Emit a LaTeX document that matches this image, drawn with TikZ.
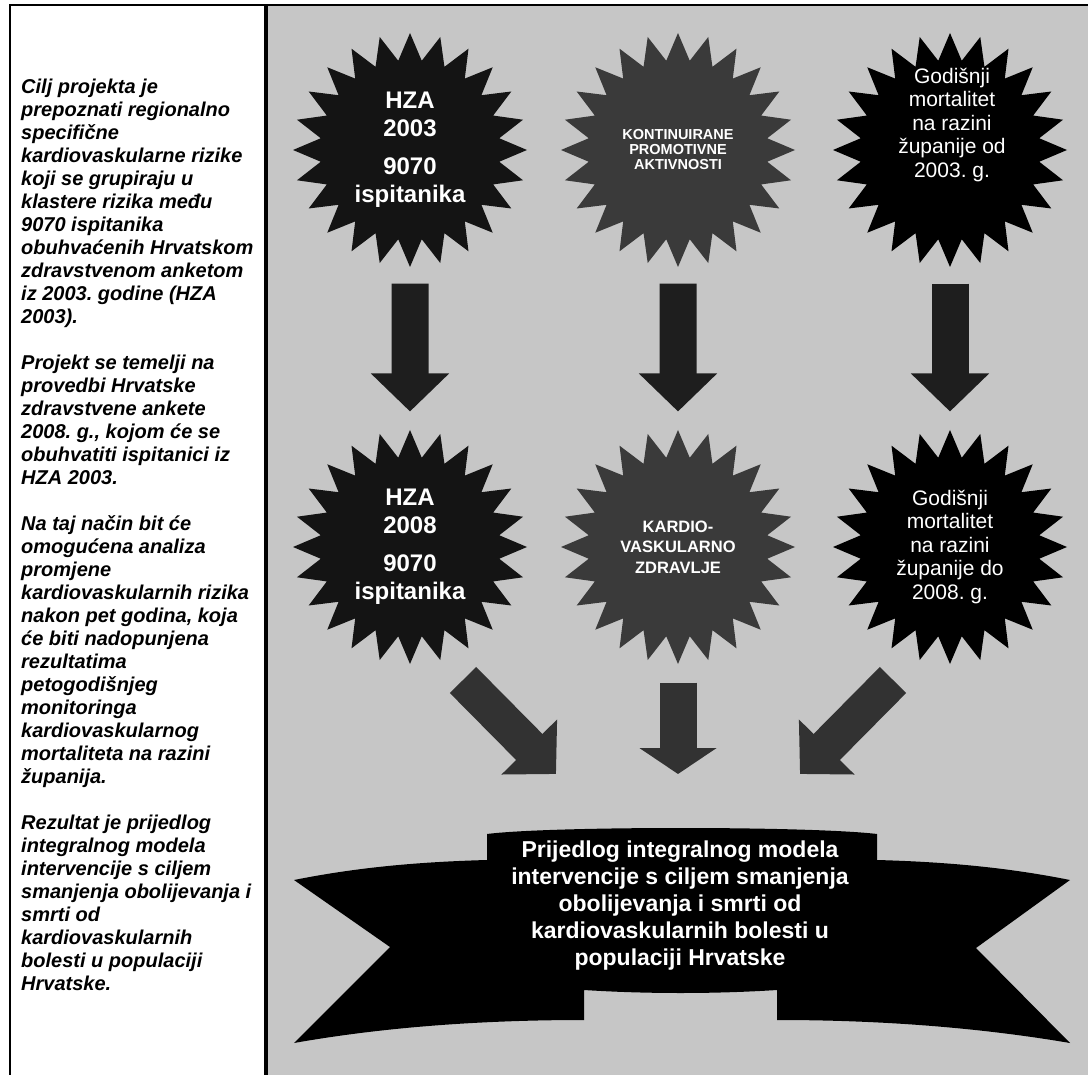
\documentclass[tikz,border=0pt]{standalone}
\usepackage{fontspec}
\setmainfont{Liberation Sans}
\usetikzlibrary{shapes.geometric,arrows.meta}
\frenchspacing
\definecolor{panelgray}{RGB}{198,198,198}
\definecolor{stardark}{RGB}{20,20,20}
\definecolor{starmid}{RGB}{58,58,58}
\definecolor{arrowdark}{RGB}{30,30,30}
\definecolor{arrowmid}{RGB}{50,50,50}
\tikzset{
	burst/.style={star, star points=24, star point ratio=1.3, minimum size=234pt, inner sep=0pt, text=white, align=center},
	bigarrow/.style={line width=37pt, -{Triangle[width=76pt,length=38pt]}},
	hzatext/.style={font=\fontsize{24}{28}\selectfont\bfseries},
	capstext/.style={font=\fontsize{14.5}{15}\selectfont\bfseries},
	mortext/.style={font=\fontsize{21}{23.5}\selectfont},
	sidetext/.style={anchor=north west, inner sep=0pt, align=left, font=\fontsize{20}{23}\selectfont\bfseries\itshape}
}
\begin{document}
\begin{tikzpicture}[x=1pt,y=-1pt]
	\useasboundingbox (0,0) rectangle (1088,1075);
	\fill[white] (0,0) rectangle (1088,1075);
	\fill[panelgray] (267,6) rectangle (1088,1075);
	\draw[line width=2pt] (10,1075) -- (10,5) -- (1088,5);
	\draw[line width=4.5pt] (266,5) -- (266,1075);

	\node[sidetext] (aims) at (21,79) {Cilj projekta je\\prepoznati regionalno\\specifične\\kardiovaskularne rizike\\koji se grupiraju u\\klastere rizika među\\9070 ispitanika\\obuhvaćenih Hrvatskom\\zdravstvenom anketom\\iz 2003. godine (HZA\\2003).\\[23pt]
		Projekt se temelji na\\provedbi Hrvatske\\zdravstvene ankete\\2008. g., kojom će se\\obuhvatiti ispitanici iz\\HZA 2003.\\[23pt]
		Na taj način bit će\\omogućena analiza\\promjene\\kardiovaskularnih rizika\\nakon pet godina, koja\\će biti nadopunjena\\rezultatima\\petogodišnjeg\\monitoringa\\kardiovaskularnog\\mortaliteta na razini\\županija.\\[23pt]
		Rezultat je prijedlog\\integralnog modela\\intervencije s ciljem\\smanjenja obolijevanja i\\smrti od\\kardiovaskularnih\\bolesti u populaciji\\Hrvatske.};

	\node[burst, fill=stardark, hzatext] (hza3) at (410,150) {HZA\\2003\\[10pt]9070\\ispitanika};
	\node[burst, fill=starmid, capstext] (promo) at (678,150) {KONTINUIRANE\\PROMOTIVNE\\AKTIVNOSTI};
	\node[burst, fill=black] (mort3) at (950,150) {};
	\node[text=white, align=center, mortext] (mort3txt) at (952,125) {Godišnji\\mortalitet\\na razini\\županije od\\2003. g.};

	\node[burst, fill=stardark, hzatext] (hza8) at (410,547) {HZA\\2008\\[10pt]9070\\ispitanika};
	\node[burst, fill=starmid, font=\fontsize{16.5}{20.5}\selectfont\bfseries] (kardio) at (678,547) {KARDIO-\\VASKULARNO\\ZDRAVLJE};
	\node[burst, fill=black, mortext] (mort8) at (950,547) {Godišnji\\mortalitet\\na razini\\županije do\\2008. g.};

	\draw[bigarrow, arrowdark, shorten <=16pt, shorten >=18pt] (hza3) -- (hza8);
	\draw[bigarrow, arrowdark, shorten <=16pt, shorten >=18pt] (promo) -- (kardio);
	\draw[bigarrow, arrowdark, shorten <=16pt, shorten >=18pt] (mort3) -- (mort8);

	\coordinate (lfrom) at (463,680);
	\coordinate (lto) at (556,774);
	\coordinate (rfrom) at (893,680);
	\coordinate (rto) at (800,774);
	\coordinate (mto) at (678,774);
	\draw[bigarrow, arrowmid] (lfrom) -- (lto);
	\draw[bigarrow, arrowmid] (rfrom) -- (rto);
	\draw[line width=37pt, arrowmid, -{Triangle[width=76pt,length=26pt]}, shorten <=18pt] (kardio) -- (mto);

	\fill[black] (487,834) .. controls (550,826) and (810,826) .. (877,834) -- (877,860)
		.. controls (950,862) and (1010,868) .. (1070,880) -- (976,948) -- (1070,1043)
		.. controls (970,1026) and (870,1020) .. (777,1020) -- (777,990)
		.. controls (715,994) and (646,994) .. (584,990) -- (584,1020)
		.. controls (490,1020) and (390,1026) .. (294,1043) -- (390,947) -- (294,880)
		.. controls (354,868) and (414,862) .. (487,860) -- cycle;
	\node[text=white, align=center, font=\fontsize{23}{27}\selectfont\bfseries] (proposal) at (680,906) {Prijedlog integralnog modela\\intervencije s ciljem smanjenja\\obolijevanja i smrti od\\kardiovaskularnih bolesti u\\populaciji Hrvatske};
\end{tikzpicture}
\end{document}
